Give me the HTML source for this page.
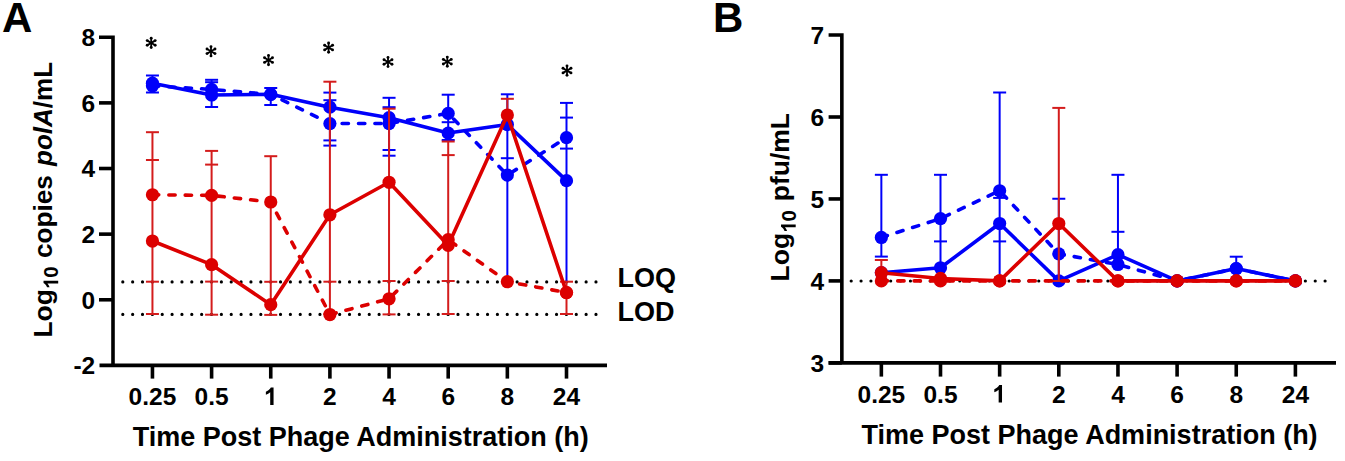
<!DOCTYPE html>
<html><head><meta charset="utf-8"><style>
html,body{margin:0;padding:0;background:#fff;}
svg{display:block;font-family:"Liberation Sans",sans-serif;}
</style></head><body>
<svg width="1345" height="461" viewBox="0 0 1345 461">
<rect width="1345" height="461" fill="#fff"/>
<line x1="122.8" y1="281.9" x2="596.5" y2="281.9" stroke="#000" stroke-width="3.2" stroke-linecap="round" stroke-dasharray="0 9.858"/>
<line x1="122.8" y1="314.4" x2="596.5" y2="314.4" stroke="#000" stroke-width="3.2" stroke-linecap="round" stroke-dasharray="0 9.858"/>
<line x1="152.45" y1="75.50" x2="152.45" y2="92.50" stroke="#0000fa" stroke-width="2.0" />
<line x1="145.95" y1="75.50" x2="158.95" y2="75.50" stroke="#0000fa" stroke-width="2.0" />
<line x1="145.95" y1="92.50" x2="158.95" y2="92.50" stroke="#0000fa" stroke-width="2.0" />
<line x1="211.60" y1="79.80" x2="211.60" y2="107.00" stroke="#0000fa" stroke-width="2.0" />
<line x1="205.10" y1="79.80" x2="218.10" y2="79.80" stroke="#0000fa" stroke-width="2.0" />
<line x1="205.10" y1="82.20" x2="218.10" y2="82.20" stroke="#0000fa" stroke-width="2.0" />
<line x1="205.10" y1="107.00" x2="218.10" y2="107.00" stroke="#0000fa" stroke-width="2.0" />
<line x1="270.75" y1="88.00" x2="270.75" y2="105.00" stroke="#0000fa" stroke-width="2.0" />
<line x1="264.25" y1="88.00" x2="277.25" y2="88.00" stroke="#0000fa" stroke-width="2.0" />
<line x1="264.25" y1="105.00" x2="277.25" y2="105.00" stroke="#0000fa" stroke-width="2.0" />
<line x1="329.90" y1="92.60" x2="329.90" y2="145.60" stroke="#0000fa" stroke-width="2.0" />
<line x1="323.40" y1="92.60" x2="336.40" y2="92.60" stroke="#0000fa" stroke-width="2.0" />
<line x1="323.40" y1="100.20" x2="336.40" y2="100.20" stroke="#0000fa" stroke-width="2.0" />
<line x1="323.40" y1="140.40" x2="336.40" y2="140.40" stroke="#0000fa" stroke-width="2.0" />
<line x1="323.40" y1="145.60" x2="336.40" y2="145.60" stroke="#0000fa" stroke-width="2.0" />
<line x1="389.05" y1="97.80" x2="389.05" y2="155.70" stroke="#0000fa" stroke-width="2.0" />
<line x1="382.55" y1="97.80" x2="395.55" y2="97.80" stroke="#0000fa" stroke-width="2.0" />
<line x1="382.55" y1="107.20" x2="395.55" y2="107.20" stroke="#0000fa" stroke-width="2.0" />
<line x1="382.55" y1="150.00" x2="395.55" y2="150.00" stroke="#0000fa" stroke-width="2.0" />
<line x1="382.55" y1="155.70" x2="395.55" y2="155.70" stroke="#0000fa" stroke-width="2.0" />
<line x1="448.20" y1="94.70" x2="448.20" y2="140.00" stroke="#0000fa" stroke-width="2.0" />
<line x1="441.70" y1="94.70" x2="454.70" y2="94.70" stroke="#0000fa" stroke-width="2.0" />
<line x1="441.70" y1="122.20" x2="454.70" y2="122.20" stroke="#0000fa" stroke-width="2.0" />
<line x1="441.70" y1="140.00" x2="454.70" y2="140.00" stroke="#0000fa" stroke-width="2.0" />
<line x1="507.35" y1="94.30" x2="507.35" y2="281.70" stroke="#0000fa" stroke-width="2.0" />
<line x1="500.85" y1="94.30" x2="513.85" y2="94.30" stroke="#0000fa" stroke-width="2.0" />
<line x1="500.85" y1="158.20" x2="513.85" y2="158.20" stroke="#0000fa" stroke-width="2.0" />
<line x1="566.50" y1="102.90" x2="566.50" y2="281.70" stroke="#0000fa" stroke-width="2.0" />
<line x1="560.00" y1="102.90" x2="573.00" y2="102.90" stroke="#0000fa" stroke-width="2.0" />
<line x1="560.00" y1="117.60" x2="573.00" y2="117.60" stroke="#0000fa" stroke-width="2.0" />
<line x1="560.00" y1="148.60" x2="573.00" y2="148.60" stroke="#0000fa" stroke-width="2.0" />
<polyline points="152.45,85.82 211.60,89.43 270.75,94.35 329.90,123.55 389.05,123.55 448.20,113.38 507.35,175.07 566.50,137.66" fill="none" stroke="#0000fa" stroke-width="3.6" stroke-linejoin="round" stroke-dasharray="6.3 10.1" stroke-linecap="round"/>
<polyline points="152.45,83.19 211.60,95.00 270.75,94.35 329.90,107.15 389.05,117.65 448.20,133.07 507.35,124.54 566.50,180.65" fill="none" stroke="#0000fa" stroke-width="3.6" stroke-linejoin="round" />
<circle cx="152.45" cy="85.82" r="6.6" fill="#0000fa"/>
<circle cx="152.45" cy="83.19" r="6.6" fill="#0000fa"/>
<circle cx="211.60" cy="89.43" r="6.6" fill="#0000fa"/>
<circle cx="211.60" cy="95.00" r="6.6" fill="#0000fa"/>
<circle cx="270.75" cy="94.35" r="6.6" fill="#0000fa"/>
<circle cx="270.75" cy="94.35" r="6.6" fill="#0000fa"/>
<circle cx="329.90" cy="123.55" r="6.6" fill="#0000fa"/>
<circle cx="329.90" cy="107.15" r="6.6" fill="#0000fa"/>
<circle cx="389.05" cy="123.55" r="6.6" fill="#0000fa"/>
<circle cx="389.05" cy="117.65" r="6.6" fill="#0000fa"/>
<circle cx="448.20" cy="113.38" r="6.6" fill="#0000fa"/>
<circle cx="448.20" cy="133.07" r="6.6" fill="#0000fa"/>
<circle cx="507.35" cy="175.07" r="6.6" fill="#0000fa"/>
<circle cx="507.35" cy="124.54" r="6.6" fill="#0000fa"/>
<circle cx="566.50" cy="137.66" r="6.6" fill="#0000fa"/>
<circle cx="566.50" cy="180.65" r="6.6" fill="#0000fa"/>
<line x1="152.45" y1="132.20" x2="152.45" y2="314.00" stroke="#d41c1c" stroke-width="2.0" />
<line x1="145.95" y1="132.20" x2="158.95" y2="132.20" stroke="#d41c1c" stroke-width="2.0" />
<line x1="145.95" y1="160.00" x2="158.95" y2="160.00" stroke="#d41c1c" stroke-width="2.0" />
<line x1="145.95" y1="281.70" x2="158.95" y2="281.70" stroke="#d41c1c" stroke-width="2.0" />
<line x1="145.95" y1="314.00" x2="158.95" y2="314.00" stroke="#d41c1c" stroke-width="2.0" />
<line x1="211.60" y1="150.90" x2="211.60" y2="314.70" stroke="#d41c1c" stroke-width="2.0" />
<line x1="205.10" y1="150.90" x2="218.10" y2="150.90" stroke="#d41c1c" stroke-width="2.0" />
<line x1="205.10" y1="164.60" x2="218.10" y2="164.60" stroke="#d41c1c" stroke-width="2.0" />
<line x1="205.10" y1="281.60" x2="218.10" y2="281.60" stroke="#d41c1c" stroke-width="2.0" />
<line x1="205.10" y1="314.70" x2="218.10" y2="314.70" stroke="#d41c1c" stroke-width="2.0" />
<line x1="270.75" y1="156.20" x2="270.75" y2="314.90" stroke="#d41c1c" stroke-width="2.0" />
<line x1="264.25" y1="156.20" x2="277.25" y2="156.20" stroke="#d41c1c" stroke-width="2.0" />
<line x1="264.25" y1="281.80" x2="277.25" y2="281.80" stroke="#d41c1c" stroke-width="2.0" />
<line x1="264.25" y1="314.90" x2="277.25" y2="314.90" stroke="#d41c1c" stroke-width="2.0" />
<line x1="329.90" y1="81.70" x2="329.90" y2="314.00" stroke="#d41c1c" stroke-width="2.0" />
<line x1="323.40" y1="81.70" x2="336.40" y2="81.70" stroke="#d41c1c" stroke-width="2.0" />
<line x1="323.40" y1="281.70" x2="336.40" y2="281.70" stroke="#d41c1c" stroke-width="2.0" />
<line x1="323.40" y1="314.00" x2="336.40" y2="314.00" stroke="#d41c1c" stroke-width="2.0" />
<line x1="389.05" y1="108.70" x2="389.05" y2="314.40" stroke="#d41c1c" stroke-width="2.0" />
<line x1="382.55" y1="108.70" x2="395.55" y2="108.70" stroke="#d41c1c" stroke-width="2.0" />
<line x1="382.55" y1="281.00" x2="395.55" y2="281.00" stroke="#d41c1c" stroke-width="2.0" />
<line x1="382.55" y1="314.40" x2="395.55" y2="314.40" stroke="#d41c1c" stroke-width="2.0" />
<line x1="448.20" y1="141.50" x2="448.20" y2="314.00" stroke="#d41c1c" stroke-width="2.0" />
<line x1="441.70" y1="141.50" x2="454.70" y2="141.50" stroke="#d41c1c" stroke-width="2.0" />
<line x1="441.70" y1="155.10" x2="454.70" y2="155.10" stroke="#d41c1c" stroke-width="2.0" />
<line x1="441.70" y1="281.00" x2="454.70" y2="281.00" stroke="#d41c1c" stroke-width="2.0" />
<line x1="441.70" y1="314.00" x2="454.70" y2="314.00" stroke="#d41c1c" stroke-width="2.0" />
<line x1="507.35" y1="98.80" x2="507.35" y2="114.70" stroke="#d41c1c" stroke-width="2.0" />
<line x1="500.85" y1="98.80" x2="513.85" y2="98.80" stroke="#d41c1c" stroke-width="2.0" />
<line x1="566.50" y1="281.70" x2="566.50" y2="314.00" stroke="#d41c1c" stroke-width="2.0" />
<line x1="560.00" y1="281.70" x2="573.00" y2="281.70" stroke="#d41c1c" stroke-width="2.0" />
<line x1="560.00" y1="314.00" x2="573.00" y2="314.00" stroke="#d41c1c" stroke-width="2.0" />
<polyline points="152.45,194.76 211.60,195.42 270.75,201.98 329.90,314.54 389.05,298.79 448.20,239.72 507.35,281.72 566.50,292.55" fill="none" stroke="#dc0000" stroke-width="3.6" stroke-linejoin="round" stroke-dasharray="6.3 10.1" stroke-linecap="round"/>
<polyline points="152.45,241.03 211.60,264.66 270.75,304.69 329.90,214.78 389.05,182.29 448.20,245.30 507.35,115.02 566.50,292.55" fill="none" stroke="#dc0000" stroke-width="3.6" stroke-linejoin="round" />
<circle cx="152.45" cy="194.76" r="6.6" fill="#dc0000"/>
<circle cx="152.45" cy="241.03" r="6.6" fill="#dc0000"/>
<circle cx="211.60" cy="195.42" r="6.6" fill="#dc0000"/>
<circle cx="211.60" cy="264.66" r="6.6" fill="#dc0000"/>
<circle cx="270.75" cy="201.98" r="6.6" fill="#dc0000"/>
<circle cx="270.75" cy="304.69" r="6.6" fill="#dc0000"/>
<circle cx="329.90" cy="314.54" r="6.6" fill="#dc0000"/>
<circle cx="329.90" cy="214.78" r="6.6" fill="#dc0000"/>
<circle cx="389.05" cy="298.79" r="6.6" fill="#dc0000"/>
<circle cx="389.05" cy="182.29" r="6.6" fill="#dc0000"/>
<circle cx="448.20" cy="239.72" r="6.6" fill="#dc0000"/>
<circle cx="448.20" cy="245.30" r="6.6" fill="#dc0000"/>
<circle cx="507.35" cy="281.72" r="6.6" fill="#dc0000"/>
<circle cx="507.35" cy="115.02" r="6.6" fill="#dc0000"/>
<circle cx="566.50" cy="292.55" r="6.6" fill="#dc0000"/>
<circle cx="566.50" cy="292.55" r="6.6" fill="#dc0000"/>
<path d="M99,37.25 H113 V365.40" fill="none" stroke="#000" stroke-width="3.6" stroke-linejoin="miter"/>
<line x1="99.5" y1="365.40" x2="607" y2="365.40" stroke="#000" stroke-width="3.6"/>
<text x="95.20" y="46.05" font-size="24.5" text-anchor="end" font-weight="bold" >8</text>
<line x1="99.00" y1="102.88" x2="113.00" y2="102.88" stroke="#000" stroke-width="3.6" />
<text x="95.20" y="111.68" font-size="24.5" text-anchor="end" font-weight="bold" >6</text>
<line x1="99.00" y1="168.51" x2="113.00" y2="168.51" stroke="#000" stroke-width="3.6" />
<text x="95.20" y="177.31" font-size="24.5" text-anchor="end" font-weight="bold" >4</text>
<line x1="99.00" y1="234.14" x2="113.00" y2="234.14" stroke="#000" stroke-width="3.6" />
<text x="95.20" y="242.94" font-size="24.5" text-anchor="end" font-weight="bold" >2</text>
<line x1="99.00" y1="299.77" x2="113.00" y2="299.77" stroke="#000" stroke-width="3.6" />
<text x="95.20" y="308.57" font-size="24.5" text-anchor="end" font-weight="bold" >0</text>
<text x="95.20" y="374.20" font-size="24.5" text-anchor="end" font-weight="bold" >-2</text>
<line x1="152.45" y1="365.40" x2="152.45" y2="378.60" stroke="#000" stroke-width="3.6" />
<text x="152.45" y="405.00" font-size="24.5" text-anchor="middle" font-weight="bold" >0.25</text>
<line x1="211.60" y1="365.40" x2="211.60" y2="378.60" stroke="#000" stroke-width="3.6" />
<text x="211.60" y="405.00" font-size="24.5" text-anchor="middle" font-weight="bold" >0.5</text>
<line x1="270.75" y1="365.40" x2="270.75" y2="378.60" stroke="#000" stroke-width="3.6" />
<path d="M1059,0 L778,0 L778,1073 C675,977 554,906 415,860 L415,1118 C488,1142 568,1187 654,1254 C740,1321 799,1392 831,1466 L1059,1466 Z" transform="translate(260.90,405.00) scale(0.01196,-0.01196)" fill="#000" />
<line x1="329.90" y1="365.40" x2="329.90" y2="378.60" stroke="#000" stroke-width="3.6" />
<text x="329.90" y="405.00" font-size="24.5" text-anchor="middle" font-weight="bold" >2</text>
<line x1="389.05" y1="365.40" x2="389.05" y2="378.60" stroke="#000" stroke-width="3.6" />
<text x="389.05" y="405.00" font-size="24.5" text-anchor="middle" font-weight="bold" >4</text>
<line x1="448.20" y1="365.40" x2="448.20" y2="378.60" stroke="#000" stroke-width="3.6" />
<text x="448.20" y="405.00" font-size="24.5" text-anchor="middle" font-weight="bold" >6</text>
<line x1="507.35" y1="365.40" x2="507.35" y2="378.60" stroke="#000" stroke-width="3.6" />
<text x="507.35" y="405.00" font-size="24.5" text-anchor="middle" font-weight="bold" >8</text>
<line x1="566.50" y1="365.40" x2="566.50" y2="378.60" stroke="#000" stroke-width="3.6" />
<text x="566.50" y="405.00" font-size="24.5" text-anchor="middle" font-weight="bold" >24</text>
<line x1="151.20" y1="42.90" x2="151.20" y2="38.30" stroke="#000" stroke-width="1.8" />
<circle cx="151.20" cy="38.30" r="1.45" fill="#000"/>
<line x1="151.20" y1="42.90" x2="155.18" y2="40.60" stroke="#000" stroke-width="1.8" />
<circle cx="155.18" cy="40.60" r="1.45" fill="#000"/>
<line x1="151.20" y1="42.90" x2="147.22" y2="40.60" stroke="#000" stroke-width="1.8" />
<circle cx="147.22" cy="40.60" r="1.45" fill="#000"/>
<line x1="151.20" y1="42.90" x2="151.20" y2="47.50" stroke="#000" stroke-width="1.8" />
<circle cx="151.20" cy="47.50" r="1.45" fill="#000"/>
<line x1="151.20" y1="42.90" x2="147.22" y2="45.20" stroke="#000" stroke-width="1.8" />
<circle cx="147.22" cy="45.20" r="1.45" fill="#000"/>
<line x1="151.20" y1="42.90" x2="155.18" y2="45.20" stroke="#000" stroke-width="1.8" />
<circle cx="155.18" cy="45.20" r="1.45" fill="#000"/>
<line x1="211.00" y1="51.30" x2="211.00" y2="46.70" stroke="#000" stroke-width="1.8" />
<circle cx="211.00" cy="46.70" r="1.45" fill="#000"/>
<line x1="211.00" y1="51.30" x2="214.98" y2="49.00" stroke="#000" stroke-width="1.8" />
<circle cx="214.98" cy="49.00" r="1.45" fill="#000"/>
<line x1="211.00" y1="51.30" x2="207.02" y2="49.00" stroke="#000" stroke-width="1.8" />
<circle cx="207.02" cy="49.00" r="1.45" fill="#000"/>
<line x1="211.00" y1="51.30" x2="211.00" y2="55.90" stroke="#000" stroke-width="1.8" />
<circle cx="211.00" cy="55.90" r="1.45" fill="#000"/>
<line x1="211.00" y1="51.30" x2="207.02" y2="53.60" stroke="#000" stroke-width="1.8" />
<circle cx="207.02" cy="53.60" r="1.45" fill="#000"/>
<line x1="211.00" y1="51.30" x2="214.98" y2="53.60" stroke="#000" stroke-width="1.8" />
<circle cx="214.98" cy="53.60" r="1.45" fill="#000"/>
<line x1="268.50" y1="60.10" x2="268.50" y2="55.50" stroke="#000" stroke-width="1.8" />
<circle cx="268.50" cy="55.50" r="1.45" fill="#000"/>
<line x1="268.50" y1="60.10" x2="272.48" y2="57.80" stroke="#000" stroke-width="1.8" />
<circle cx="272.48" cy="57.80" r="1.45" fill="#000"/>
<line x1="268.50" y1="60.10" x2="264.52" y2="57.80" stroke="#000" stroke-width="1.8" />
<circle cx="264.52" cy="57.80" r="1.45" fill="#000"/>
<line x1="268.50" y1="60.10" x2="268.50" y2="64.70" stroke="#000" stroke-width="1.8" />
<circle cx="268.50" cy="64.70" r="1.45" fill="#000"/>
<line x1="268.50" y1="60.10" x2="264.52" y2="62.40" stroke="#000" stroke-width="1.8" />
<circle cx="264.52" cy="62.40" r="1.45" fill="#000"/>
<line x1="268.50" y1="60.10" x2="272.48" y2="62.40" stroke="#000" stroke-width="1.8" />
<circle cx="272.48" cy="62.40" r="1.45" fill="#000"/>
<line x1="328.60" y1="47.60" x2="328.60" y2="43.00" stroke="#000" stroke-width="1.8" />
<circle cx="328.60" cy="43.00" r="1.45" fill="#000"/>
<line x1="328.60" y1="47.60" x2="332.58" y2="45.30" stroke="#000" stroke-width="1.8" />
<circle cx="332.58" cy="45.30" r="1.45" fill="#000"/>
<line x1="328.60" y1="47.60" x2="324.62" y2="45.30" stroke="#000" stroke-width="1.8" />
<circle cx="324.62" cy="45.30" r="1.45" fill="#000"/>
<line x1="328.60" y1="47.60" x2="328.60" y2="52.20" stroke="#000" stroke-width="1.8" />
<circle cx="328.60" cy="52.20" r="1.45" fill="#000"/>
<line x1="328.60" y1="47.60" x2="324.62" y2="49.90" stroke="#000" stroke-width="1.8" />
<circle cx="324.62" cy="49.90" r="1.45" fill="#000"/>
<line x1="328.60" y1="47.60" x2="332.58" y2="49.90" stroke="#000" stroke-width="1.8" />
<circle cx="332.58" cy="49.90" r="1.45" fill="#000"/>
<line x1="388.00" y1="62.00" x2="388.00" y2="57.40" stroke="#000" stroke-width="1.8" />
<circle cx="388.00" cy="57.40" r="1.45" fill="#000"/>
<line x1="388.00" y1="62.00" x2="391.98" y2="59.70" stroke="#000" stroke-width="1.8" />
<circle cx="391.98" cy="59.70" r="1.45" fill="#000"/>
<line x1="388.00" y1="62.00" x2="384.02" y2="59.70" stroke="#000" stroke-width="1.8" />
<circle cx="384.02" cy="59.70" r="1.45" fill="#000"/>
<line x1="388.00" y1="62.00" x2="388.00" y2="66.60" stroke="#000" stroke-width="1.8" />
<circle cx="388.00" cy="66.60" r="1.45" fill="#000"/>
<line x1="388.00" y1="62.00" x2="384.02" y2="64.30" stroke="#000" stroke-width="1.8" />
<circle cx="384.02" cy="64.30" r="1.45" fill="#000"/>
<line x1="388.00" y1="62.00" x2="391.98" y2="64.30" stroke="#000" stroke-width="1.8" />
<circle cx="391.98" cy="64.30" r="1.45" fill="#000"/>
<line x1="447.30" y1="61.70" x2="447.30" y2="57.10" stroke="#000" stroke-width="1.8" />
<circle cx="447.30" cy="57.10" r="1.45" fill="#000"/>
<line x1="447.30" y1="61.70" x2="451.28" y2="59.40" stroke="#000" stroke-width="1.8" />
<circle cx="451.28" cy="59.40" r="1.45" fill="#000"/>
<line x1="447.30" y1="61.70" x2="443.32" y2="59.40" stroke="#000" stroke-width="1.8" />
<circle cx="443.32" cy="59.40" r="1.45" fill="#000"/>
<line x1="447.30" y1="61.70" x2="447.30" y2="66.30" stroke="#000" stroke-width="1.8" />
<circle cx="447.30" cy="66.30" r="1.45" fill="#000"/>
<line x1="447.30" y1="61.70" x2="443.32" y2="64.00" stroke="#000" stroke-width="1.8" />
<circle cx="443.32" cy="64.00" r="1.45" fill="#000"/>
<line x1="447.30" y1="61.70" x2="451.28" y2="64.00" stroke="#000" stroke-width="1.8" />
<circle cx="451.28" cy="64.00" r="1.45" fill="#000"/>
<line x1="567.00" y1="70.60" x2="567.00" y2="66.00" stroke="#000" stroke-width="1.8" />
<circle cx="567.00" cy="66.00" r="1.45" fill="#000"/>
<line x1="567.00" y1="70.60" x2="570.98" y2="68.30" stroke="#000" stroke-width="1.8" />
<circle cx="570.98" cy="68.30" r="1.45" fill="#000"/>
<line x1="567.00" y1="70.60" x2="563.02" y2="68.30" stroke="#000" stroke-width="1.8" />
<circle cx="563.02" cy="68.30" r="1.45" fill="#000"/>
<line x1="567.00" y1="70.60" x2="567.00" y2="75.20" stroke="#000" stroke-width="1.8" />
<circle cx="567.00" cy="75.20" r="1.45" fill="#000"/>
<line x1="567.00" y1="70.60" x2="563.02" y2="72.90" stroke="#000" stroke-width="1.8" />
<circle cx="563.02" cy="72.90" r="1.45" fill="#000"/>
<line x1="567.00" y1="70.60" x2="570.98" y2="72.90" stroke="#000" stroke-width="1.8" />
<circle cx="570.98" cy="72.90" r="1.45" fill="#000"/>
<text x="617.40" y="286.50" font-size="27" text-anchor="start" font-weight="bold" >LOQ</text>
<text x="617.40" y="320.50" font-size="27" text-anchor="start" font-weight="bold" >LOD</text>
<text x="360.80" y="446.40" font-size="27" text-anchor="middle" font-weight="bold" >Time Post Phage Administration (h)</text>
<g transform="translate(51.9,337.6) rotate(-90) scale(1.0,1)"><text x="0" y="0" font-size="26.5" font-weight="bold">Log</text><path d="M1059,0 L778,0 L778,1073 C675,977 554,906 415,860 L415,1118 C488,1142 568,1187 654,1254 C740,1321 799,1392 831,1466 L1059,1466 Z" transform="translate(46.262,6.3) scale(0.01001,-0.01001)" fill="#000"/><text x="59.960" y="6.3" font-size="20.5" font-weight="bold">0</text></g>
<text transform="translate(51.9,258.0) rotate(-90) scale(0.988,1)" font-size="26.5" font-weight="bold">copies</text>
<text transform="translate(51.9,166.0) rotate(-90) scale(0.983,1)" font-size="26.5" font-weight="bold"><tspan font-style="italic">polA</tspan>/mL</text>
<text x="2.00" y="32.00" font-size="42" text-anchor="start" font-weight="bold" >A</text>
<line x1="851.2" y1="281" x2="1325.5" y2="281" stroke="#000" stroke-width="3.2" stroke-linecap="round" stroke-dasharray="0 9.873"/>
<line x1="881.35" y1="174.80" x2="881.35" y2="256.60" stroke="#0000fa" stroke-width="2.0" />
<line x1="874.85" y1="174.80" x2="887.85" y2="174.80" stroke="#0000fa" stroke-width="2.0" />
<line x1="874.85" y1="256.60" x2="887.85" y2="256.60" stroke="#0000fa" stroke-width="2.0" />
<line x1="940.50" y1="174.80" x2="940.50" y2="268.00" stroke="#0000fa" stroke-width="2.0" />
<line x1="934.00" y1="174.80" x2="947.00" y2="174.80" stroke="#0000fa" stroke-width="2.0" />
<line x1="934.00" y1="241.40" x2="947.00" y2="241.40" stroke="#0000fa" stroke-width="2.0" />
<line x1="999.65" y1="92.50" x2="999.65" y2="281.00" stroke="#0000fa" stroke-width="2.0" />
<line x1="993.15" y1="92.50" x2="1006.15" y2="92.50" stroke="#0000fa" stroke-width="2.0" />
<line x1="993.15" y1="197.90" x2="1006.15" y2="197.90" stroke="#0000fa" stroke-width="2.0" />
<line x1="993.15" y1="241.40" x2="1006.15" y2="241.40" stroke="#0000fa" stroke-width="2.0" />
<line x1="1058.80" y1="198.75" x2="1058.80" y2="281.00" stroke="#0000fa" stroke-width="2.0" />
<line x1="1052.30" y1="198.75" x2="1065.30" y2="198.75" stroke="#0000fa" stroke-width="2.0" />
<line x1="1117.95" y1="174.80" x2="1117.95" y2="264.00" stroke="#0000fa" stroke-width="2.0" />
<line x1="1111.45" y1="174.80" x2="1124.45" y2="174.80" stroke="#0000fa" stroke-width="2.0" />
<line x1="1111.45" y1="231.80" x2="1124.45" y2="231.80" stroke="#0000fa" stroke-width="2.0" />
<line x1="1236.25" y1="256.70" x2="1236.25" y2="268.70" stroke="#0000fa" stroke-width="2.0" />
<line x1="1229.75" y1="256.70" x2="1242.75" y2="256.70" stroke="#0000fa" stroke-width="2.0" />
<polyline points="881.35,237.47 940.50,218.62 999.65,190.76 1058.80,253.86 1117.95,264.51 1177.10,280.90 1236.25,268.61 1295.40,280.90" fill="none" stroke="#0000fa" stroke-width="3.6" stroke-linejoin="round" stroke-dasharray="6.3 10.1" stroke-linecap="round"/>
<polyline points="881.35,272.71 940.50,267.79 999.65,223.53 1058.80,280.90 1117.95,254.68 1177.10,280.90 1236.25,268.61 1295.40,280.90" fill="none" stroke="#0000fa" stroke-width="3.6" stroke-linejoin="round" />
<circle cx="881.35" cy="237.47" r="6.6" fill="#0000fa"/>
<circle cx="881.35" cy="272.71" r="6.6" fill="#0000fa"/>
<circle cx="940.50" cy="218.62" r="6.6" fill="#0000fa"/>
<circle cx="940.50" cy="267.79" r="6.6" fill="#0000fa"/>
<circle cx="999.65" cy="190.76" r="6.6" fill="#0000fa"/>
<circle cx="999.65" cy="223.53" r="6.6" fill="#0000fa"/>
<circle cx="1058.80" cy="253.86" r="6.6" fill="#0000fa"/>
<circle cx="1058.80" cy="280.90" r="6.6" fill="#0000fa"/>
<circle cx="1117.95" cy="264.51" r="6.6" fill="#0000fa"/>
<circle cx="1117.95" cy="254.68" r="6.6" fill="#0000fa"/>
<circle cx="1177.10" cy="280.90" r="6.6" fill="#0000fa"/>
<circle cx="1177.10" cy="280.90" r="6.6" fill="#0000fa"/>
<circle cx="1236.25" cy="268.61" r="6.6" fill="#0000fa"/>
<circle cx="1236.25" cy="268.61" r="6.6" fill="#0000fa"/>
<circle cx="1295.40" cy="280.90" r="6.6" fill="#0000fa"/>
<circle cx="1295.40" cy="280.90" r="6.6" fill="#0000fa"/>
<line x1="881.35" y1="260.00" x2="881.35" y2="273.00" stroke="#d41c1c" stroke-width="2.0" />
<line x1="874.85" y1="260.00" x2="887.85" y2="260.00" stroke="#d41c1c" stroke-width="2.0" />
<line x1="1058.80" y1="107.90" x2="1058.80" y2="281.00" stroke="#d41c1c" stroke-width="2.0" />
<line x1="1052.30" y1="107.90" x2="1065.30" y2="107.90" stroke="#d41c1c" stroke-width="2.0" />
<line x1="1052.30" y1="281.00" x2="1065.30" y2="281.00" stroke="#d41c1c" stroke-width="2.0" />
<polyline points="881.35,280.90 940.50,280.90 999.65,280.90 1058.80,280.90 1117.95,280.90 1177.10,280.90 1236.25,280.90 1295.40,280.90" fill="none" stroke="#dc0000" stroke-width="3.6" stroke-linejoin="round" stroke-dasharray="6.3 10.1" stroke-linecap="round"/>
<polyline points="881.35,272.71 940.50,278.44 999.65,280.90 1058.80,223.53 1117.95,280.90 1177.10,280.90 1236.25,280.90 1295.40,280.90" fill="none" stroke="#dc0000" stroke-width="3.6" stroke-linejoin="round" />
<circle cx="881.35" cy="280.90" r="6.6" fill="#dc0000"/>
<circle cx="881.35" cy="272.71" r="6.6" fill="#dc0000"/>
<circle cx="940.50" cy="280.90" r="6.6" fill="#dc0000"/>
<circle cx="940.50" cy="278.44" r="6.6" fill="#dc0000"/>
<circle cx="999.65" cy="280.90" r="6.6" fill="#dc0000"/>
<circle cx="999.65" cy="280.90" r="6.6" fill="#dc0000"/>
<circle cx="1058.80" cy="223.53" r="6.6" fill="#dc0000"/>
<circle cx="1117.95" cy="280.90" r="6.6" fill="#dc0000"/>
<circle cx="1117.95" cy="280.90" r="6.6" fill="#dc0000"/>
<circle cx="1177.10" cy="280.90" r="6.6" fill="#dc0000"/>
<circle cx="1177.10" cy="280.90" r="6.6" fill="#dc0000"/>
<circle cx="1236.25" cy="280.90" r="6.6" fill="#dc0000"/>
<circle cx="1236.25" cy="280.90" r="6.6" fill="#dc0000"/>
<circle cx="1295.40" cy="280.90" r="6.6" fill="#dc0000"/>
<circle cx="1295.40" cy="280.90" r="6.6" fill="#dc0000"/>
<path d="M828.6,35.05 H841.85 V362.85" fill="none" stroke="#000" stroke-width="3.6" stroke-linejoin="miter"/>
<line x1="828.6" y1="362.85" x2="1336" y2="362.85" stroke="#000" stroke-width="3.6"/>
<text x="824.20" y="43.85" font-size="24.5" text-anchor="end" font-weight="bold" >7</text>
<line x1="828.60" y1="117.00" x2="841.85" y2="117.00" stroke="#000" stroke-width="3.6" />
<text x="824.20" y="125.80" font-size="24.5" text-anchor="end" font-weight="bold" >6</text>
<line x1="828.60" y1="198.95" x2="841.85" y2="198.95" stroke="#000" stroke-width="3.6" />
<text x="824.20" y="207.75" font-size="24.5" text-anchor="end" font-weight="bold" >5</text>
<line x1="828.60" y1="280.90" x2="841.85" y2="280.90" stroke="#000" stroke-width="3.6" />
<text x="824.20" y="289.70" font-size="24.5" text-anchor="end" font-weight="bold" >4</text>
<line x1="828.60" y1="362.85" x2="841.85" y2="362.85" stroke="#000" stroke-width="3.6" />
<text x="824.20" y="371.65" font-size="24.5" text-anchor="end" font-weight="bold" >3</text>
<line x1="881.35" y1="362.85" x2="881.35" y2="376.60" stroke="#000" stroke-width="3.6" />
<text x="881.35" y="402.50" font-size="24.5" text-anchor="middle" font-weight="bold" >0.25</text>
<line x1="940.50" y1="362.85" x2="940.50" y2="376.60" stroke="#000" stroke-width="3.6" />
<text x="940.50" y="402.50" font-size="24.5" text-anchor="middle" font-weight="bold" >0.5</text>
<line x1="999.65" y1="362.85" x2="999.65" y2="376.60" stroke="#000" stroke-width="3.6" />
<path d="M1059,0 L778,0 L778,1073 C675,977 554,906 415,860 L415,1118 C488,1142 568,1187 654,1254 C740,1321 799,1392 831,1466 L1059,1466 Z" transform="translate(989.35,402.50) scale(0.01196,-0.01196)" fill="#000" />
<line x1="1058.80" y1="362.85" x2="1058.80" y2="376.60" stroke="#000" stroke-width="3.6" />
<text x="1058.80" y="402.50" font-size="24.5" text-anchor="middle" font-weight="bold" >2</text>
<line x1="1117.95" y1="362.85" x2="1117.95" y2="376.60" stroke="#000" stroke-width="3.6" />
<text x="1117.95" y="402.50" font-size="24.5" text-anchor="middle" font-weight="bold" >4</text>
<line x1="1177.10" y1="362.85" x2="1177.10" y2="376.60" stroke="#000" stroke-width="3.6" />
<text x="1177.10" y="402.50" font-size="24.5" text-anchor="middle" font-weight="bold" >6</text>
<line x1="1236.25" y1="362.85" x2="1236.25" y2="376.60" stroke="#000" stroke-width="3.6" />
<text x="1236.25" y="402.50" font-size="24.5" text-anchor="middle" font-weight="bold" >8</text>
<line x1="1295.40" y1="362.85" x2="1295.40" y2="376.60" stroke="#000" stroke-width="3.6" />
<text x="1295.40" y="402.50" font-size="24.5" text-anchor="middle" font-weight="bold" >24</text>
<text x="1089.60" y="444.20" font-size="27" text-anchor="middle" font-weight="bold" >Time Post Phage Administration (h)</text>
<g transform="translate(789.4,281.4) rotate(-90) scale(1.0,1)"><text x="0" y="0" font-size="26.5" font-weight="bold">Log</text><path d="M1059,0 L778,0 L778,1073 C675,977 554,906 415,860 L415,1118 C488,1142 568,1187 654,1254 C740,1321 799,1392 831,1466 L1059,1466 Z" transform="translate(46.262,6.3) scale(0.01001,-0.01001)" fill="#000"/><text x="59.960" y="6.3" font-size="20.5" font-weight="bold">0</text></g>
<text transform="translate(789.4,201.3) rotate(-90) scale(1.0,1)" font-size="26.5" font-weight="bold">pfu/mL</text>
<text x="713.00" y="32.00" font-size="42" text-anchor="start" font-weight="bold" >B</text>
</svg></body></html>
